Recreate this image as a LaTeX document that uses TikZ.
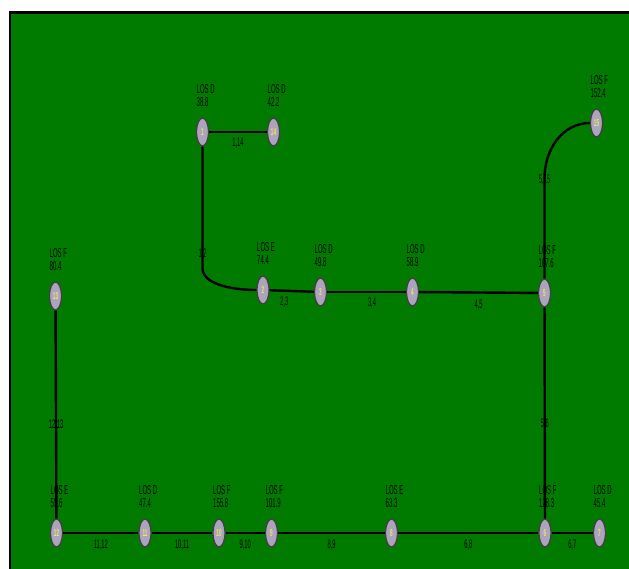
\documentclass[tikz,border=0pt]{standalone}
\usepackage{fontspec}
\newfontfamily\estrecha[FakeStretch=0.46]{Liberation Sans}
\usetikzlibrary{shapes.geometric}

\definecolor{verdefondo}{RGB}{0,123,0}
\definecolor{grisnodo}{RGB}{172,164,188}
\definecolor{amarillonum}{RGB}{240,232,100}

\begin{document}
\begin{tikzpicture}[x=1pt, y=-1pt,
    nodo/.style={ellipse, draw=black!75, line width=1.3pt, fill=grisnodo,
      minimum width=12pt, minimum height=28pt, inner sep=0pt,
      font=\estrecha\fontsize{10}{10}\selectfont\bfseries, text=amarillonum},
    los/.style={anchor=south west, align=left, inner sep=0pt,
      font=\estrecha\fontsize{13}{13.5}\selectfont, text=black},
    tramo/.style={line width=2.4pt, black},
    etiq/.style={inner sep=0pt, font=\estrecha\fontsize{12.5}{12.5}\selectfont, text=black}]

  % Fondo verde con borde superior e izquierdo
  \useasboundingbox (0,0) rectangle (629,569);
  \fill[verdefondo] (10,12.5) rectangle (629,569);
  \draw[line width=2.5pt] (10,569) -- (10,12.5) -- (629,12.5);

  % Nodos (intersecciones) con nivel de servicio y demora
  \foreach \n/\x/\y/\lv/\dem in {1/202.5/132/D/38.8, 14/273.5/132/D/42.2,
      2/263/290/E/74.4, 3/320.5/292/D/49.8, 4/412.5/292/D/58.9,
      5/544.5/293/F/107.6, 15/596.5/123/F/152.4, 13/55.5/296/F/80.4,
      12/56.5/533/E/55.6, 11/145/533/D/47.4, 10/219/533/F/155.8,
      9/271.5/533/F/101.9, 8/391.5/533/E/63.3, 6/545/533/F/128.3,
      7/599.5/533/D/45.4} {
    \node[nodo] (n\n) at (\x,\y) {\n};
    \node[los] (t\n) at (\x-6,\y-25) {LOS \lv\\\dem};
  }

  % Tramos superiores (con curvas)
  \draw[tramo] (n1) -- (n14) node[etiq, midway, below=5pt] {1,14};
  \coordinate (c12) at (202.5,268);
  \draw[tramo] (n1) -- (c12) node[etiq, pos=0.88] {1,2}
    to[out=-90, in=180, looseness=0.8] (n2);
  \coordinate (c515) at (544.5,178);
  \draw[tramo] (n5) -- (c515) node[etiq, pos=0.98] {5,15}
    to[out=90, in=180] (n15);

  % Corredor central
  \draw[tramo] (n2) -- (n3) node[etiq, pos=0.33, below=5pt] {2,3};
  \draw[tramo] (n3) -- (n4) node[etiq, pos=0.57, below=5pt] {3,4};
  \draw[tramo] (n4) -- (n5) node[etiq, midway, below=6pt] {4,5};

  % Tramos verticales
  \draw[tramo] (n5) -- (n6) node[etiq, pos=0.55] {5,6};
  \draw[tramo] (n13) -- (n12) node[etiq, pos=0.55] {12,13};

  % Corredor inferior
  \draw[tramo] (n12) -- (n11) node[etiq, midway, below=6pt] {11,12};
  \draw[tramo] (n11) -- (n10) node[etiq, midway, below=6pt] {10,11};
  \draw[tramo] (n10) -- (n9) node[etiq, midway, below=6pt] {9,10};
  \draw[tramo] (n9) -- (n8) node[etiq, midway, below=6pt] {8,9};
  \draw[tramo] (n8) -- (n6) node[etiq, midway, below=6pt] {6,8};
  \draw[tramo] (n6) -- (n7) node[etiq, midway, below=6pt] {6,7};

\end{tikzpicture}
\end{document}
